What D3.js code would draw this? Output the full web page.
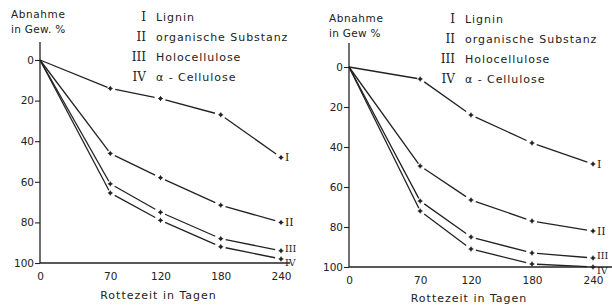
<!DOCTYPE html>
<html lang="de">
<head>
<meta charset="UTF-8">
<title>Abnahme in Gew. %</title>
<script src="https://d3js.org/d3.v7.min.js"></script>
<style>
  body { margin: 0; background: #fff; }
  svg { display: block; }
  text { fill: #222; font-family: "DejaVu Sans", sans-serif; }
  .roman { font-family: "DejaVu Serif", "Liberation Serif", serif; }
</style>
</head>
<body>
<div id="chart"></div>
<script>
// data
const days = [0, 70, 120, 180, 240];
const xTicks = [0, 70, 120, 180, 240];
const yTicks = [0, 20, 40, 60, 80, 100];
const romans = ["I", "II", "III", "IV"];
const legendLabels = ["Lignin", "organische Substanz", "Holocellulose", "\u03b1 - Cellulose"];

// Abnahme in Gew. % (left panel)
const leftI   = [0, 14, 19, 27, 48];
const leftII  = [0, 46, 58, 71.5, 80];
const leftIII = [0, 61, 75, 88, 94];
const leftIV  = [0, 65.5, 79, 92, 98];

// right panel
const rightI   = [0, 6, 24, 38, 48.5];
const rightII  = [0, 49.5, 66.5, 77, 82];
const rightIII = [0, 67, 85, 93, 95.5];
const rightIV  = [0, 72, 91, 98.5, 100];

const W = 612, H = 307;
const ink = "#222";

const svg = d3.select("#chart").append("svg")
  .attr("width", W).attr("height", H);

// one panel = one little chart
function drawPanel(p) {
  const x = d3.scaleLinear().domain([0, 240]).range([p.x0, p.x1]);
  const y = d3.scaleLinear().domain([0, 100]).range([p.y0, p.y1]);
  const g = svg.append("g");

  // y axis line, runs a bit above 0
  g.append("line")
    .attr("x1", x(0)).attr("x2", x(0))
    .attr("y1", p.axisTop).attr("y2", y(100))
    .attr("stroke", ink).attr("stroke-width", 1.3);
  // bottom line
  g.append("line")
    .attr("x1", x(0)).attr("x2", p.baseEnd)
    .attr("y1", y(100)).attr("y2", y(100))
    .attr("stroke", ink).attr("stroke-width", 1.3);

  // y ticks
  const yAx = g.append("g")
    .attr("transform", `translate(${x(0)},0)`)
    .call(d3.axisLeft(y).tickValues(yTicks).tickSize(5).tickPadding(1).tickFormat(d3.format("d")));
  yAx.select(".domain").remove();
  yAx.selectAll("line").attr("stroke", ink).attr("stroke-width", 1.1);
  yAx.selectAll("text").attr("font-size", 10.5).attr("font-family", "DejaVu Sans").attr("fill", ink);

  // x ticks (labels only)
  const xAx = g.append("g")
    .attr("transform", `translate(0,${y(100)})`)
    .call(d3.axisBottom(x).tickValues(xTicks).tickSize(0).tickPadding(p.xPad).tickFormat(d3.format("d")));
  xAx.select(".domain").remove();
  xAx.selectAll("text").attr("font-size", 10.5).attr("font-family", "DejaVu Sans").attr("fill", ink);

  // titles
  g.append("text").attr("x", p.titleX).attr("y", p.titleY)
    .attr("font-size", 10.5).attr("letter-spacing", 0.6).text("Abnahme");
  g.append("text").attr("x", p.titleX).attr("y", p.titleY + 15)
    .attr("font-size", 10.5).attr("letter-spacing", 0.3).text(p.unit);
  g.append("text").attr("x", (x(0) + x(240)) / 2 - 2).attr("y", p.xTitleY)
    .attr("text-anchor", "middle").attr("font-size", 11).attr("letter-spacing", 1)
    .text("Rottezeit in Tagen");

  // legend
  romans.forEach((r, i) => {
    const ly = p.legY + i * 20;
    g.append("text").attr("class", "roman").attr("x", p.legX - 4).attr("y", ly)
      .attr("text-anchor", "end").attr("font-size", 12).text(r);
    g.append("text").attr("x", p.legX + 6).attr("y", ly)
      .attr("font-size", 11).attr("letter-spacing", 0.95).text(legendLabels[i]);
  });

  // curves: solid pieces, broken open around each marker
  const gap = 5;
  const labelShift = [0, 0, -3, 3];
  p.series.forEach((vals, si) => {
    const pts = days.map((d, i) => [x(d), y(vals[i])]);
    for (let i = 1; i < pts.length; i++) {
      const [ax, ay] = pts[i - 1], [bx, by] = pts[i];
      const len = Math.hypot(bx - ax, by - ay);
      const ux = (bx - ax) / len, uy = (by - ay) / len;
      const s = i === 1 ? 0 : gap;
      const e = i === 1 ? 3 : gap + 1;
      g.append("line")
        .attr("x1", ax + ux * s).attr("y1", ay + uy * s)
        .attr("x2", bx - ux * e).attr("y2", by - uy * e)
        .attr("stroke", ink).attr("stroke-width", 1.3);
    }
    // markers
    pts.slice(1).forEach(([px, py]) => {
      g.append("circle").attr("cx", px).attr("cy", py).attr("r", 1.7).attr("fill", ink);
      g.append("path")
        .attr("d", `M${px - 2.5},${py}H${px + 2.5}M${px},${py - 2.5}V${py + 2.5}`)
        .attr("stroke", ink).attr("stroke-width", 0.9);
    });
    // end label
    const [ex, ey] = pts[pts.length - 1];
    g.append("text").attr("class", "roman").attr("x", ex + 4).attr("y", ey + 4 + labelShift[si])
      .attr("font-size", si < 2 ? 11 : 9.5).text(romans[si]);
  });
}

drawPanel({
  x0: 40, x1: 281, y0: 60, y1: 263, axisTop: 42, baseEnd: 290,
  xPad: 10, titleX: 11, titleY: 18, unit: "in Gew. %", xTitleY: 299,
  legX: 150, legY: 21,
  series: [leftI, leftII, leftIII, leftIV]
});

drawPanel({
  x0: 349, x1: 593, y0: 67, y1: 267, axisTop: 43, baseEnd: 612,
  xPad: 10, titleX: 329, titleY: 22, unit: "in Gew %", xTitleY: 302,
  legX: 459, legY: 23,
  series: [rightI, rightII, rightIII, rightIV]
});
</script>
</body>
</html>
